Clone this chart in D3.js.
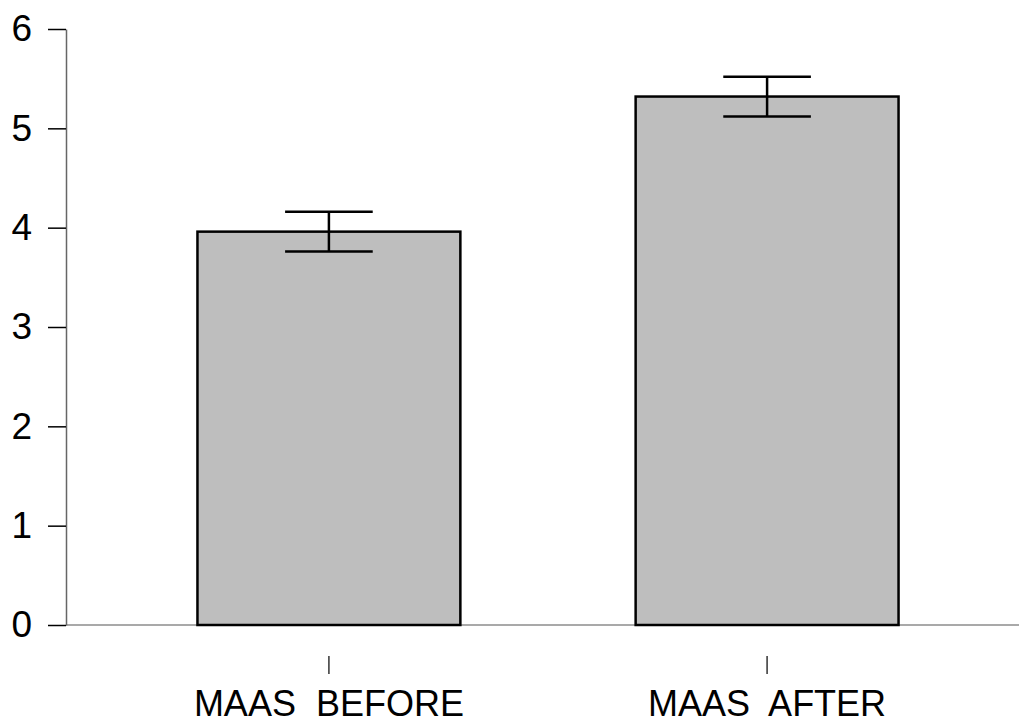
<!DOCTYPE html>
<html>
<head>
<meta charset="utf-8">
<script src="https://cdn.jsdelivr.net/npm/d3@7"></script>
<style>
  body { margin: 0; background: #fff; }
  svg { display: block; }
</style>
</head>
<body>
<div id="chart"></div>
<script>
// chart data
const categories = ["MAAS  BEFORE", "MAAS  AFTER"];
const means = [3.96, 5.32];
const errors = [0.2, 0.2];
const yTicks = [0, 1, 2, 3, 4, 5, 6];

const width = 1019, height = 723;

const svg = d3.select("#chart")
  .append("svg")
  .attr("width", width)
  .attr("height", height);

// scales
const x = d3.scaleBand()
  .domain(categories)
  .range([66, 1030])
  .paddingInner(0.4)
  .paddingOuter(0.3);

const y = d3.scaleLinear()
  .domain([0, 6])
  .range([625, 29]);

// baseline
svg.append("line")
  .attr("x1", 66).attr("x2", width)
  .attr("y1", y(0)).attr("y2", y(0))
  .attr("stroke", "#8c8c8c")
  .attr("stroke-width", 1.5);

// y axis
const yAxis = svg.append("g")
  .attr("transform", "translate(66,0)")
  .call(d3.axisLeft(y)
    .tickValues(yTicks)
    .tickFormat(d3.format("d"))
    .tickSize(18).tickPadding(16).tickSizeOuter(0));
yAxis.select(".domain").attr("stroke", "#666").attr("stroke-width", 1.5);
yAxis.selectAll(".tick line").attr("stroke", "#000").attr("stroke-width", 1.5);
yAxis.selectAll(".tick text")
  .attr("font-family", "Arial, 'Liberation Sans', sans-serif")
  .attr("font-size", 37)
  .attr("fill", "#000");

// bars
svg.append("g")
  .selectAll("rect")
  .data(categories)
  .join("rect")
  .attr("x", d => x(d))
  .attr("y", (d, i) => y(means[i]))
  .attr("width", x.bandwidth())
  .attr("height", (d, i) => y(0) - y(means[i]))
  .attr("fill", "#bebebe")
  .attr("stroke", "#000")
  .attr("stroke-width", 2.5);

// error bars
const capHalf = x.bandwidth() / 6;
const eb = svg.append("g")
  .attr("stroke", "#000")
  .attr("stroke-width", 2.5)
  .selectAll("g")
  .data(categories)
  .join("g")
  .attr("transform", d => `translate(${x(d) + x.bandwidth() / 2},0)`);
eb.append("line")
  .attr("y1", (d, i) => y(means[i] + errors[i]))
  .attr("y2", (d, i) => y(means[i] - errors[i]));
eb.append("line")
  .attr("x1", -capHalf).attr("x2", capHalf)
  .attr("y1", (d, i) => y(means[i] + errors[i]))
  .attr("y2", (d, i) => y(means[i] + errors[i]));
eb.append("line")
  .attr("x1", -capHalf).attr("x2", capHalf)
  .attr("y1", (d, i) => y(means[i] - errors[i]))
  .attr("y2", (d, i) => y(means[i] - errors[i]));

// x axis (detached ticks below baseline)
const xAxis = svg.append("g")
  .attr("transform", "translate(0,656)")
  .call(d3.axisBottom(x).tickSize(18).tickPadding(16).tickSizeOuter(0));
xAxis.select(".domain").remove();
xAxis.selectAll(".tick line").attr("stroke", "#333").attr("stroke-width", 1.5);
xAxis.selectAll(".tick text")
  .attr("font-family", "Arial, 'Liberation Sans', sans-serif")
  .attr("font-size", 36)
  .attr("fill", "#000")
  .style("white-space", "pre");
</script>
</body>
</html>
